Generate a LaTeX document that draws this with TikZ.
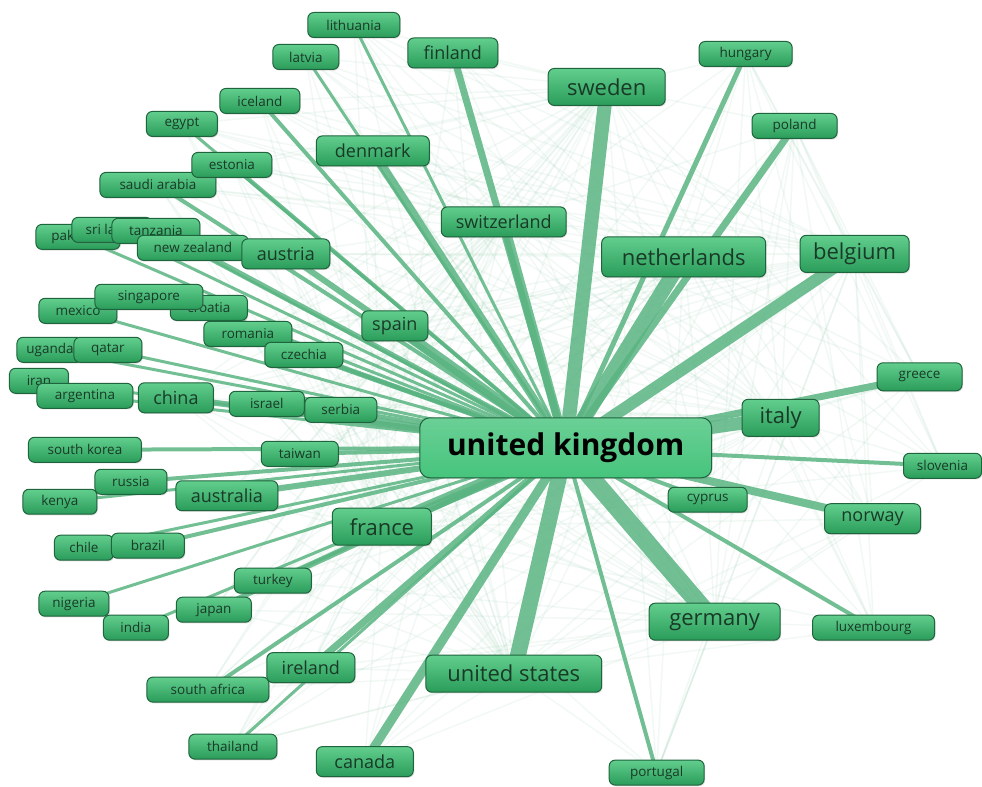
\documentclass[tikz,border=0pt]{standalone}
\usepackage{fontspec}
\setmainfont{Open Sans}
\usetikzlibrary{shadows}
\definecolor{nodetop}{RGB}{98,206,142}
\definecolor{nodebot}{RGB}{42,156,90}
\definecolor{nodeline}{RGB}{30,100,60}
\definecolor{labeltext}{RGB}{24,58,38}
\definecolor{linkgreen}{RGB}{90,180,130}
\definecolor{hubfill}{RGB}{70,196,124}
\pgfdeclarelayer{background}
\pgfsetlayers{background,main}

\begin{document}
\begin{tikzpicture}[x=1pt,y=-1pt,
  country/.style={draw=nodeline, line width=1pt, top color=nodetop, bottom color=nodebot,
    rounded corners=6pt, text=labeltext, inner sep=0pt,
    drop shadow={opacity=.25, shadow xshift=1pt, shadow yshift=-1.2pt}},
  small/.style={country, minimum width=#1, minimum height=25, font=\fontsize{13.5}{13.5}\selectfont},
  mid/.style={country, minimum width=#1, minimum height=30, font=\fontsize{18}{18}\selectfont},
  big/.style={country, minimum width=#1, minimum height=37, font=\fontsize{22}{22}\selectfont},
  link/.style={draw=linkgreen, line width=#1, opacity=.85},
  web/.style={draw=linkgreen, line width=1.5, opacity=.08}]

% north
\node[small=92] (lithuania) at (354,25) {lithuania};
\node[small=66] (latvia) at (306,57) {latvia};
\node[mid=90] (finland) at (453,53) {finland};
\node[big=117] (sweden) at (607,87) {sweden};
\node[small=93] (hungary) at (746,54) {hungary};
\node[small=85] (poland) at (795,126) {poland};
\node[small=80] (iceland) at (260,101) {iceland};
\node[small=71] (egypt) at (182,124) {egypt};
\node[mid=113] (denmark) at (373,151) {denmark};
\node[small=116] (saudiarabia) at (158,185) {saudi arabia};
\node[small=80] (estonia) at (232,165) {estonia};
\node[mid=125] (switzerland) at (504,222) {switzerland};
\node[big=164, minimum height=40] (netherlands) at (684,257) {netherlands};
\node[big=109] (belgium) at (855,254) {belgium};

% west
\node[small=84] (pakistan) at (78,237) {pakistan};
\node[small=80] (srilanka) at (112,230) {sri lanka};
\node[small=88] (tanzania) at (156,231) {tanzania};
\node[small=111] (newzealand) at (193,248) {new zealand};
\node[mid=88] (austria) at (286,254) {austria};
\node[small=78] (mexico) at (78,311) {mexico};
\node[small=77] (croatia) at (209,308) {croatia};
\node[small=108] (singapore) at (149,297) {singapore};
\node[small=88] (romania) at (248,334) {romania};
\node[small=78] (czechia) at (304,355) {czechia};
\node[mid=66] (spain) at (395,326) {spain};
\node[small=66] (uganda) at (50,350) {uganda};
\node[small=68] (qatar) at (108,350) {qatar};
\node[small=59] (iran) at (39,381) {iran};
\node[small=96] (argentina) at (85,396) {argentina};
\node[mid=75] (china) at (176,398) {china};
\node[small=75] (israel) at (267,404) {israel};
\node[small=72] (serbia) at (341,410) {serbia};
\node[small=113] (southkorea) at (85,450) {south korea};
\node[small=77] (taiwan) at (300,454) {taiwan};
\node[small=72] (russia) at (131,482) {russia};
\node[small=74] (kenya) at (60,502) {kenya};
\node[mid=102] (australia) at (227,496) {australia};
\node[small=59] (chile) at (84,548) {chile};
\node[small=73] (brazil) at (148,546) {brazil};
\node[big=99] (france) at (382,527) {france};
\node[small=77] (turkey) at (273,581) {turkey};
\node[small=70] (nigeria) at (74,604) {nigeria};
\node[small=75] (japan) at (214,610) {japan};
\node[small=65] (india) at (136,628) {india};

% south
\node[small=122] (southafrica) at (208,690) {south africa};
\node[mid=88] (ireland) at (311,668) {ireland};
\node[small=88] (thailand) at (233,747) {thailand};
\node[mid=97] (canada) at (365,762) {canada};
\node[big=176] (usa) at (514,674) {united states};
\node[small=95] (portugal) at (657,773) {portugal};

% east
\node[small=85, minimum height=28] (greece) at (920,377) {greece};
\node[big=77] (italy) at (781,418) {italy};
\node[small=78] (slovenia) at (943,466) {slovenia};
\node[small=79] (cyprus) at (708,500) {cyprus};
\node[mid=96] (norway) at (873,519) {norway};
\node[big=131] (germany) at (715,622) {germany};
\node[small=122] (luxembourg) at (874,628) {luxembourg};

% hub
\node[country, top color=hubfill!80!white, bottom color=hubfill, text=black, rounded corners=10pt,
  minimum width=292, minimum height=60, font=\fontsize{30}{30}\bfseries] (uk) at (566,448) {united kingdom};

\begin{pgfonlayer}{background}
  \fill[white] (0,0) rectangle (982,787);
  \useasboundingbox (0,0) rectangle (982,787);
  % faint web between the other countries
  \foreach \a in {lithuania,latvia,finland,hungary,poland,iceland,egypt,denmark,saudiarabia,estonia,
      austria,spain,china,israel,serbia,taiwan,australia,turkey,japan,ireland,canada,portugal,
      greece,slovenia,cyprus,norway,luxembourg,southafrica,thailand,czechia,romania}
    \foreach \b in {netherlands,belgium,germany,italy,france,usa,sweden,switzerland}
      \draw[web] (\a.center) -- (\b.center);
  \foreach \a/\b in {greece/poland, slovenia/hungary, luxembourg/poland, norway/hungary,
      cyprus/poland, portugal/belgium, greece/hungary, slovenia/poland}
    \draw[web] (\a.center) -- (\b.center);
  % links to the hub
  \foreach \c/\w in {sweden/14, germany/18, usa/16, netherlands/15, belgium/12, italy/13,
      france/12, spain/10, switzerland/9, denmark/8, finland/7, canada/9, ireland/7,
      norway/8, greece/7, poland/7, hungary/5, austria/6, australia/6, china/6, japan/5,
      turkey/4, southafrica/4, thailand/3, portugal/4, luxembourg/4, cyprus/4, slovenia/4,
      iceland/4, latvia/3, lithuania/3, egypt/3, estonia/4, saudiarabia/4, taiwan/4,
      southkorea/4, russia/4, kenya/3, chile/3, brazil/4, india/3, nigeria/3, israel/5,
      serbia/4, argentina/3, iran/3, uganda/3, qatar/3, czechia/4, romania/4, croatia/3,
      singapore/4, mexico/3, newzealand/5, tanzania/3, srilanka/3, pakistan/3}
    \draw[link=\w] (uk.center) -- (\c.center);
\end{pgfonlayer}
\end{tikzpicture}
\end{document}
